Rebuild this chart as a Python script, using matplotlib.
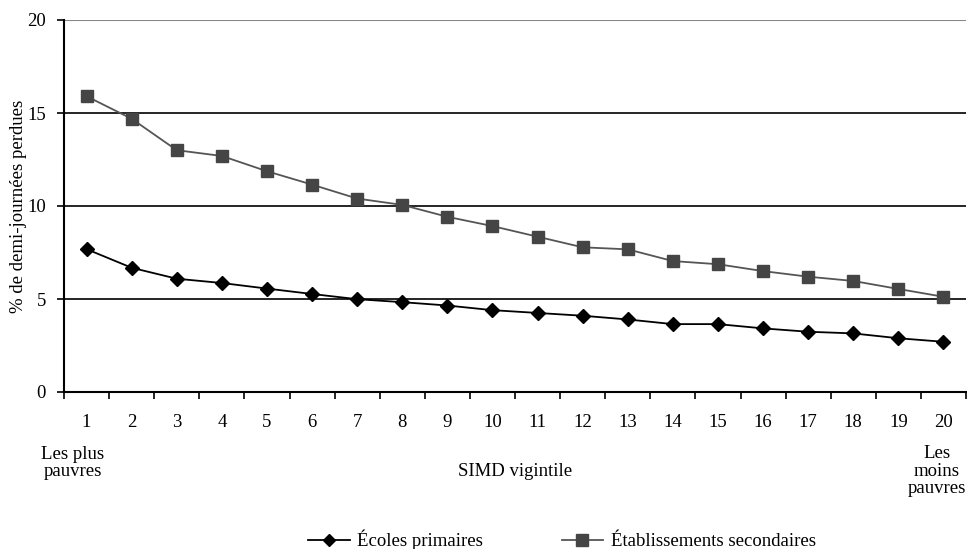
import matplotlib
matplotlib.use("Agg")
import matplotlib.pyplot as plt
import numpy as np

plt.rcParams['font.family'] = ['Liberation Serif', 'DejaVu Serif']

vigintiles = list(range(1, 21))
primaires = [7.68, 6.68, 6.09, 5.86, 5.56, 5.27, 4.99, 4.83, 4.65, 4.4,
             4.25, 4.1, 3.9, 3.65, 3.65, 3.42, 3.24, 3.15, 2.89, 2.7]
secondaires = [15.9, 14.69, 13.0, 12.69, 11.87, 11.15, 10.4, 10.06, 9.42, 8.92,
               8.35, 7.78, 7.67, 7.04, 6.87, 6.5, 6.2, 5.97, 5.54, 5.12]
y_ticks = [0, 5, 10, 15, 20]

FS = 13.5

fig = plt.figure(figsize=(9.67, 5.49), dpi=100)
ax = fig.add_axes([64/967, 1-392/549, (966-64)/967, (392-20)/549])

x = np.arange(len(vigintiles))
ax.plot(x, primaires, color='black', lw=1.3, marker='D', ms=7,
        mfc='black', mec='black', label='Écoles primaires', zorder=3)
ax.plot(x, secondaires, color='#555555', lw=1.3, marker='s', ms=9,
        mfc='#454545', mec='#454545', label='Établissements secondaires', zorder=3)

ax.set_xlim(-0.5, len(vigintiles) - 0.5)
ax.set_ylim(0, 20)
ax.set_yticks(y_ticks)
ax.set_yticklabels([str(v) for v in y_ticks], fontsize=FS)
for v in y_ticks[1:-1]:
    ax.axhline(v, color='black', lw=1.2, zorder=1)
ax.axhline(20, color='#888888', lw=1.5, zorder=1)

ax.set_xticks(np.arange(-0.5, len(vigintiles), 1.0))
ax.set_xticklabels([])
ax.set_xticks(x, minor=True)
ax.set_xticklabels([str(v) for v in vigintiles], minor=True, fontsize=FS)
ax.tick_params(axis='x', which='major', length=5, width=1.2, direction='out')
ax.tick_params(axis='x', which='minor', length=0, pad=16)
ax.tick_params(axis='y', length=5, width=1.2, direction='out', pad=8)

for s in ['top', 'right']:
    ax.spines[s].set_visible(False)
ax.spines['left'].set_linewidth(1.5)
ax.spines['bottom'].set_linewidth(1.5)

ax.set_ylabel('% de demi-journées perdues', fontsize=FS)
ax.yaxis.set_label_coords((27-64)/902, 0.5)

fig.text(73/967, 1-463/549, 'Les plus\npauvres', ha='center', va='center',
         fontsize=FS, linespacing=1.05)
fig.text(937/967, 1-471/549, 'Les\nmoins\npauvres', ha='center', va='center',
         fontsize=FS, linespacing=1.05)
fig.text(515/967, 1-471/549, 'SIMD vigintile', ha='center', va='center', fontsize=FS)

fig.legend(loc='center', bbox_to_anchor=(562/967, 1-540/549), ncol=2, frameon=False,
           fontsize=FS, handlelength=2.2, columnspacing=4.2, handletextpad=0.4,
           markerscale=0.9)

fig.savefig('out.png', dpi=100)
